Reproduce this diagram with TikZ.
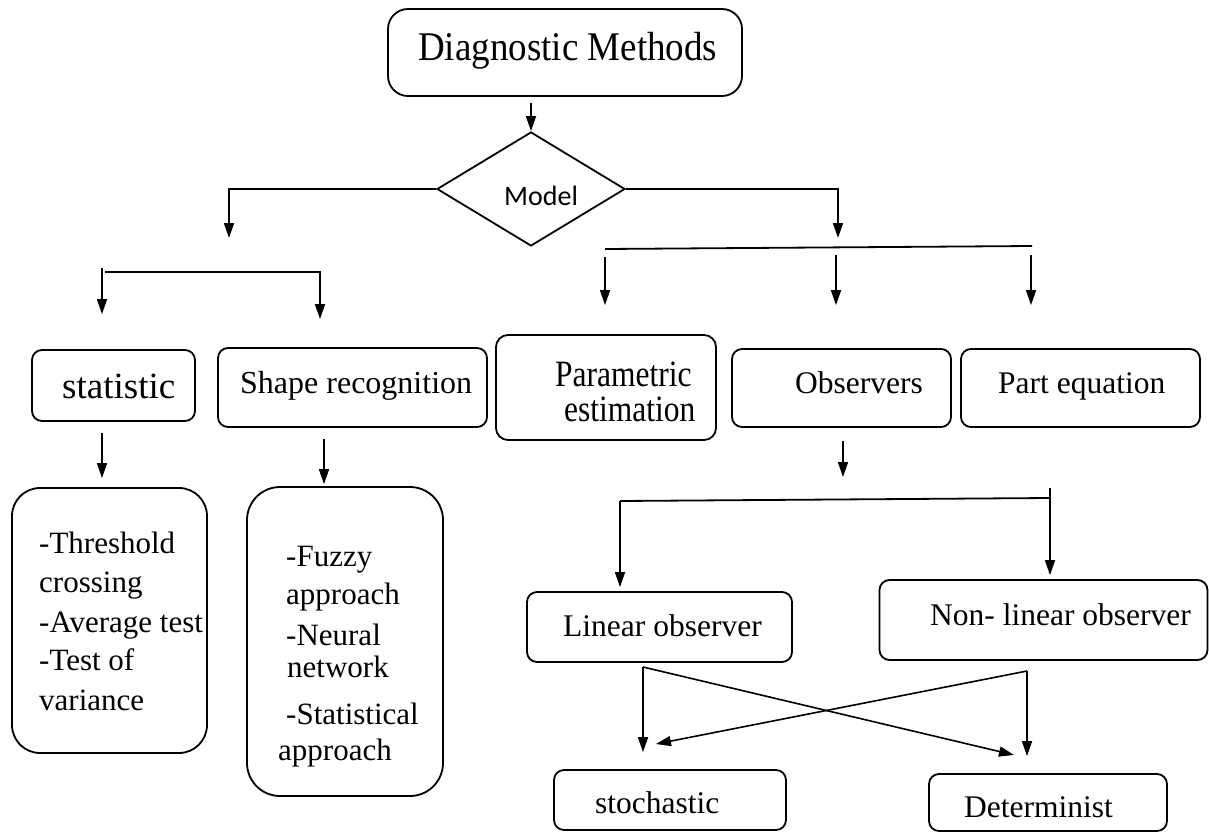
\documentclass[tikz,border=0pt]{standalone}
\usepackage{fontspec}
\setmainfont{Liberation Serif}
\newfontfamily\carl{Carlito}
\usetikzlibrary{arrows.meta,shapes.geometric}
\begin{document}
\begin{tikzpicture}[x=1pt,y=-1pt,
 box/.style={draw, line width=1.8pt, rounded corners=10pt, inner sep=0pt},
 txt/.style={inner sep=0pt, anchor=base west, font=\fontsize{31.5}{38}\selectfont},
 arr/.style={line width=1.6pt, -{Triangle[width=10pt,length=15pt]}},
 ln/.style={line width=1.8pt}]
\useasboundingbox[fill=white] (0,0) rectangle (1209,832);

% guide coordinates
\coordinate (x102) at (102,0);
\coordinate (x324) at (324,0);
\coordinate (x620) at (620,0);
\coordinate (x843) at (843,0);
\coordinate (x1050) at (1050,0);

% boxes
\node[box, rounded corners=20pt, minimum width=354pt, minimum height=87pt] (title) at (565,52.5) {};
\node[draw, diamond, line width=1.8pt, minimum width=188pt, minimum height=114pt, aspect=1.65, inner sep=0pt] (dia) at (531,189) {};
\node[box, minimum width=163pt, minimum height=71pt] (stat) at (113.5,385.5) {};
\node[box, minimum width=269pt, minimum height=79pt] (shape) at (352.5,387.5) {};
\node[box, rounded corners=12pt, minimum width=220pt, minimum height=105pt] (par) at (606,387.5) {};
\node[box, minimum width=219pt, minimum height=78pt] (obs) at (841.5,388) {};
\node[box, minimum width=239pt, minimum height=78pt] (part) at (1080.5,388) {};
\node[box, rounded corners=28pt, minimum width=195pt, minimum height=265pt] (thr) at (109.5,620.5) {};
\node[box, rounded corners=33pt, minimum width=196pt, minimum height=309pt] (fuz) at (345,641.5) {};
\node[box, minimum width=265pt, minimum height=70pt] (lin) at (659.5,627) {};
\node[box, minimum width=328pt, minimum height=80pt] (non) at (1043.5,620) {};
\node[box, minimum width=232pt, minimum height=60pt] (sto) at (670,800) {};
\node[box, minimum width=238pt, minimum height=57pt] (det) at (1048,802.5) {};

% texts
\node[txt, font=\fontsize{37}{44}\selectfont] (tTitle) at (418,61) {\scalebox{1}[1.1]{Diagnostic Methods}};
\node[txt, font=\fontsize{28}{34}\carl] (tModel) at (504,205) {Model};
\node[txt, font=\fontsize{37}{44}\selectfont] (tStat) at (62,398) {statistic};
\node[txt, font=\fontsize{32}{38}\selectfont] (tShape) at (240,393) {Shape recognition};
\node[txt] (tPar1) at (555,386) {\scalebox{1}[1.18]{Parametric}};
\node[txt] (tPar2) at (564,421) {\scalebox{1}[1.18]{estimation}};
\node[txt] (tObs) at (795,393) {Observers};
\node[txt] (tPart) at (998,393) {Part equation};
\node[txt] (tLin) at (563,636) {Linear observer};
\node[txt] (tNon) at (930,625) {Non- linear observer};
\node[txt] (tSto) at (595,813) {stochastic};
\node[txt] (tDet) at (964,817) {Determinist};
\foreach \t/\y [count=\i] in {-Threshold/553, crossing/592, -Average test/632, -Test of/670, variance/710}
  \node[txt, font=\fontsize{31}{38}\selectfont] (tThr\i) at (39,\y) {\t};
\foreach \t/\x/\y [count=\i] in {-Fuzzy/286/566, approach/286/604, -Neural/286/645, network/287/677, -Statistical/286/724, approach/278/760}
  \node[txt, font=\fontsize{31}{38}\selectfont] (tFuz\i) at (\x,\y) {\t};

% connectors
\draw[arr, shorten <=6pt] (dia.north |- title.south) -- (dia.north);
\coordinate (lt) at (229,238);
\coordinate (rt) at (838,238);
\draw[arr] (dia.west) -| (lt);
\draw[arr] (dia.east) -| (rt);

% right group
\coordinate (rl1) at (605,249);
\coordinate (rl2) at (1032,246);
\draw[ln] (rl1) -- (rl2);
\coordinate (p1) at (605,257);
\coordinate (p2) at (836,255);
\coordinate (p3) at (1031,255);
\draw[arr, shorten >=29pt] (p1) -- (p1 |- par.north);
\draw[arr, shorten >=43pt] (p2) -- (p2 |- obs.north);
\draw[arr, shorten >=43pt] (p3) -- (p3 |- part.north);

% left group
\coordinate (l1) at (102,268);
\coordinate (l2) at (105,272);
\coordinate (l3) at (320,272);
\draw[arr, shorten >=35pt] (l1) -- (l1 |- stat.north);
\draw[arr, shorten >=28pt] (l2) -- (l3) -- (l3 |- shape.north);

\draw[arr, shorten <=11pt, shorten >=9pt] (stat.south -| x102) -- (thr.north -| x102);
\draw[arr, shorten <=11pt, shorten >=2pt] (shape.south -| x324) -- (fuz.north -| x324);

% observers
\coordinate (ob) at (843,477);
\draw[arr, shorten <=13pt] (obs.south -| x843) -- (ob);
\coordinate (b1) at (620,501);
\coordinate (b2) at (1050,498);
\coordinate (b3) at (1050,488);
\draw[ln] (b1) -- (b2);
\draw[arr, shorten >=4pt] (b1) -- (lin.north -| x620);
\draw[arr, shorten >=4pt] (b3) -- (non.north -| x1050);

% cross
\coordinate (lo) at (643,667);
\coordinate (no) at (1027,671);
\coordinate (ld) at (1014,755);
\coordinate (nd) at (656,744);
\draw[arr, shorten >=17pt] (lo) -- (sto.north -| lo);
\draw[arr] (lo) -- (ld);
\draw[arr, shorten >=17pt] (no) -- (det.north -| no);
\draw[arr] (no) -- (nd);
\end{tikzpicture}
\end{document}
